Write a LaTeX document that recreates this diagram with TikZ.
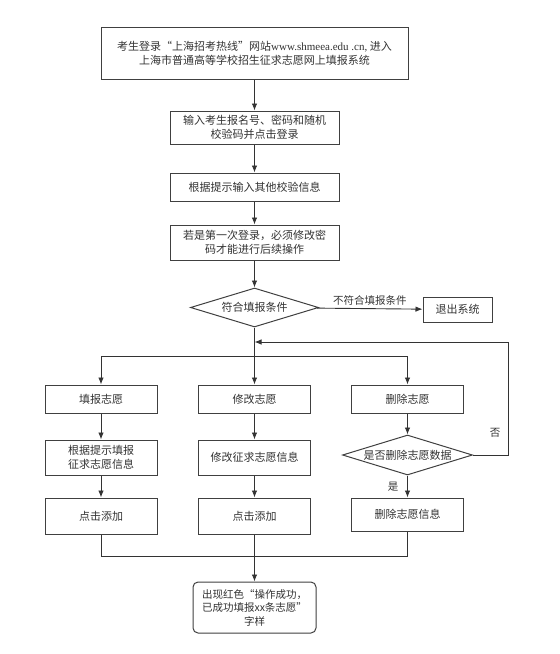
\documentclass[tikz,border=0pt]{standalone}
\usepackage{fontspec}
\setmainfont{Noto Sans CJK SC}
\newfontfamily\latserif{Liberation Serif}
\usetikzlibrary{shapes.geometric,arrows.meta}
\begin{document}
\begin{tikzpicture}[x=1pt,y=-1pt,
  every node/.style={font=\fontsize{11}{14}\selectfont, text=black!80},
  box/.style={draw=black!75, line width=1pt, fill=white, align=center, inner sep=1pt},
  dia/.style={draw=black!75, line width=1pt, diamond, inner sep=0pt, align=center},
  conn/.style={draw=black!80, line width=0.9pt},
  arr/.style={conn, -{Latex[length=7pt,width=5.5pt]}},
  lbl/.style={font=\fontsize{10.5}{12}\selectfont}]
\useasboundingbox (0,0) rectangle (560,654);
\node[box, minimum width=307, minimum height=52] (top) at (254.5,53)
  {考生登录“上海招考热线”网站{\latserif www.shmeea.edu .cn,} 进入\\上海市普通高等学校招生征求志愿网上填报系统};
\node[box, minimum width=169, minimum height=33] (b2) at (254.5,127.5)
  {输入考生报名号、密码和随机\\校验码并点击登录};
\node[box, minimum width=169, minimum height=28] (b3) at (254.5,187)
  {根据提示输入其他校验信息};
\node[box, minimum width=169, minimum height=35] (b4) at (254.5,242.5)
  {若是第一次登录，必须修改密\\码才能进行后续操作};
\node[dia, aspect=3.3, minimum width=128, minimum height=39] (d1) at (254.5,307.5) {符合填报条件};
\node[box, minimum width=69, minimum height=25] (exit) at (457.5,309.5) {退出系统};

\node[box, minimum width=112, minimum height=28] (r1a) at (101,399) {填报志愿};
\node[box, minimum width=112, minimum height=28] (r1b) at (254.5,399) {修改志愿};
\node[box, minimum width=112, minimum height=28] (r1c) at (407.5,399) {删除志愿};

\node[box, minimum width=112, minimum height=35] (r2a) at (101,457.5) {根据提示填报\\征求志愿信息};
\node[box, minimum width=112, minimum height=35] (r2b) at (254.5,457.5) {修改征求志愿信息};
\node[dia, aspect=3.25, minimum width=130, minimum height=40] (d2) at (407.5,455) {是否删除志愿数据};

\node[box, minimum width=112, minimum height=36] (r3a) at (101,516) {点击添加};
\node[box, minimum width=112, minimum height=36] (r3b) at (254.5,516) {点击添加};
\node[box, minimum width=112, minimum height=33] (r3c) at (407.5,514.5) {删除志愿信息};

\node[box, rounded corners=5pt, minimum width=123, minimum height=51, font=\fontsize{10.5}{13.5}\selectfont] (fin) at (254.5,607.5)
  {出现红色“操作成功，\\已成功填报xx条志愿”\\字样};

\coordinate (split) at (254.5,356);
\coordinate (loopin) at (254.5,342);
\coordinate (loopr) at (508,342);
\coordinate (loopd) at (508,455);
\coordinate (mergea) at (101,556);
\coordinate (mergec) at (407.5,556);
\coordinate (mergeb) at (254.5,556);

\draw[arr] (top) -- (b2);
\draw[arr] (b2) -- (b3);
\draw[arr] (b3) -- (b4);
\draw[arr] (b4) -- (d1);
\draw[arr] (d1) -- node[lbl, above=-1pt] {不符合填报条件} (exit);
\draw[arr] (d1) -- (r1b);
\draw[arr] (split) -| (r1a);
\draw[arr] (split) -| (r1c);
\draw[arr] (d2.east) -- (loopd) -- (loopr) -- (loopin);
\node[lbl] (no) at (495,433) {否};
\draw[arr] (r1a) -- (r2a);
\draw[arr] (r1b) -- (r2b);
\draw[arr] (r1c) -- (d2);
\draw[arr] (r2a) -- (r3a);
\draw[arr] (r2b) -- (r3b);
\draw[arr] (d2) -- (r3c);
\node[lbl] (yes) at (393,487) {是};
\draw[conn] (r3a) -- (mergea) -- (mergec) -- (r3c);
\draw[arr] (r3b) -- (fin);
\end{tikzpicture}
\end{document}
